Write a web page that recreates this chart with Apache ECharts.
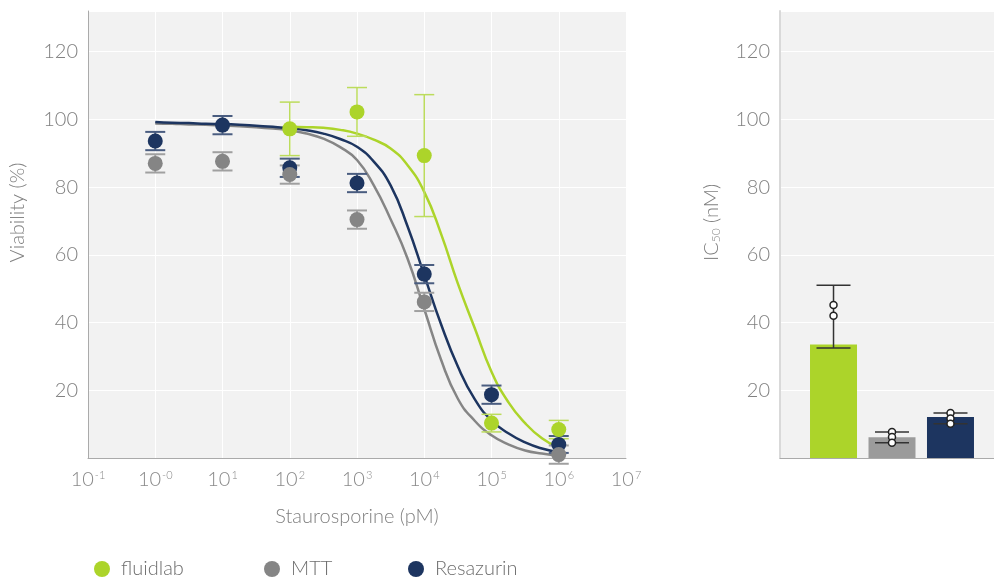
<!DOCTYPE html>
<html>
<head>
<meta charset="utf-8">
<script src="https://cdn.jsdelivr.net/npm/echarts/dist/echarts.min.js"></script>
<style>
  html, body { margin: 0; padding: 0; background: #fff; }
  #chart { width: 994px; height: 581px; }
</style>
</head>
<body>
<div id="chart"></div>
<script>
// doses (pM) for the measured points
const doses = [1, 10, 100, 1000, 10000, 100000, 1000000]
const fluidlabMean = [null, null, 97.2, 102.2, 89.3, 10.3, 8.4]
const fluidlabSd = [null, null, 7.9, 7.2, 18.0, 2.6, 2.7]
const mttMean = [87.0, 87.6, 83.7, 70.4, 46.1, null, 1.0]
const mttSd = [2.7, 2.7, 2.7, 2.7, 2.7, null, 2.7]
const resMean = [93.6, 98.3, 85.7, 81.2, 54.3, 18.7, 4.0]
const resSd = [2.7, 2.7, 2.7, 2.7, 2.7, 2.7, 2.5]

// fitted curves, every quarter decade (10^k pM, k = 0 ... 6)
const curveExp = [0, 0.25, 0.5, 0.75, 1, 1.25, 1.5, 1.75, 2, 2.25, 2.5, 2.75, 3, 3.25, 3.5, 3.75, 4, 4.25, 4.5, 4.75, 5, 5.25, 5.5, 5.75, 6]
const fluidlabFit = [null, null, null, null, null, null, null, null,
  97.8, 97.7, 97.5, 96.9, 95.8, 94.0, 91.4, 86.5, 78.6, 66.2, 51.5, 38.4, 25.5, 16.5, 10.3, 5.8, 3.0]
const mttFit = [98.8, 98.7, 98.5, 98.4, 98.2, 98.0, 97.7, 97.3,
  96.8, 95.8, 94.3, 91.8, 88.0, 80.5, 70.5, 59.0, 44.0, 29.0, 17.5, 11.0, 6.7, 4.0, 2.2, 1.3, 0.7]
const resFit = [99.2, 99.0, 98.9, 98.7, 98.6, 98.4, 98.1, 97.8,
  97.4, 96.8, 95.8, 94.2, 91.9, 87.5, 80.5, 68.5, 54.0, 39.5, 27.0, 17.4, 11.1, 7.3, 4.6, 2.8, 1.7]

// x tick exponents as printed
const xTickExp = ['-1', '-0', '1', '2', '3', '4', '5', '6', '7']

// IC50 bar chart
const ic50Names = ['fluidlab', 'MTT', 'Resazurin']
const ic50Mean = [33.5, 6.1, 12.1]
const ic50Low = [32.5, 4.5, 10.1]
const ic50High = [51.0, 7.7, 13.3]
const ic50Reps = [[45.2, 42.0], [7.7, 6.2, 4.5], [13.3, 11.7, 10.1]]

const green = '#acd42a'
const gray = '#858585'
const barGray = '#9b9b9b'
const navy = '#1d3560'
const font = 'Lato'
const textColor = '#808080'

const pts = (mean) => doses.map((d, i) => (mean[i] == null ? null : [d, mean[i]])).filter(Boolean)
const errs = (mean, sd) =>
  doses.map((d, i) => (mean[i] == null ? null : [d, mean[i] - sd[i], mean[i] + sd[i]])).filter(Boolean)
const fit = (vals) => curveExp.map((k, i) => (vals[i] == null ? null : [Math.pow(10, k), vals[i]])).filter(Boolean)

// error bar: vertical line + two caps
const errorBar = (capHalf, width) => (params, api) => {
  const x = api.value(0)
  const lo = api.coord([x, api.value(1)])
  const hi = api.coord([x, api.value(2)])
  const style = { stroke: api.visual('color'), lineWidth: width }
  return {
    type: 'group',
    children: [
      { type: 'line', shape: { x1: lo[0], y1: lo[1], x2: hi[0], y2: hi[1] }, style },
      { type: 'line', shape: { x1: hi[0] - capHalf, y1: hi[1], x2: hi[0] + capHalf, y2: hi[1] }, style },
      { type: 'line', shape: { x1: lo[0] - capHalf, y1: lo[1], x2: lo[0] + capHalf, y2: lo[1] }, style },
    ],
  }
}

const myChart = echarts.init(document.getElementById('chart'))

const yAxisBase = {
  type: 'value',
  min: 0,
  max: 132,
  interval: 20,
  axisTick: { show: false },
  axisLabel: {
    color: textColor,
    fontFamily: font,
    fontWeight: 300,
    fontSize: 20,
    margin: 10,
    formatter: (v) => (v === 0 || v > 120 ? '' : String(v)), // 0 和上限不顯示
  },
  splitLine: { lineStyle: { color: '#ffffff', width: 1 } },
  nameLocation: 'middle',
}

const legendBase = {
  icon: 'circle',
  itemWidth: 16,
  itemHeight: 16,
  top: 554,
  textStyle: { color: '#6e6e6e', fontFamily: font, fontWeight: 300, fontSize: 20, padding: [0, 0, 0, 6] },
}

const curve = (name, vals, color) => ({
  name,
  type: 'line',
  xAxisIndex: 0,
  yAxisIndex: 0,
  data: fit(vals),
  smooth: 0.5,
  symbol: 'none',
  lineStyle: { color, width: 2.5 },
  z: 2,
})

const option = {
  animation: false,
  legend: [
    { ...legendBase, left: 89, data: ['fluidlab'] },
    { ...legendBase, left: 259, data: ['MTT'] },
    { ...legendBase, left: 403, data: ['Resazurin'] },
  ],
  grid: [
    { left: 88, right: 368, top: 11, bottom: 123, show: true, backgroundColor: '#f2f2f2', borderWidth: 0 },
    { left: 780, right: 0, top: 11, bottom: 123, show: true, backgroundColor: '#f2f2f2', borderWidth: 0 },
  ],
  xAxis: [
    {
      type: 'log',
      gridIndex: 0,
      logBase: 10,
      min: 0.1,
      max: 10000000,
      name: 'Staurosporine (pM)',
      nameLocation: 'middle',
      nameGap: 49,
      nameTextStyle: { color: textColor, fontFamily: font, fontWeight: 300, fontSize: 20 },
      axisLine: { lineStyle: { color: '#aaaaaa', width: 1 } },
      axisTick: { show: false },
      splitLine: { show: true, lineStyle: { color: '#ffffff', width: 1 } },
      axisLabel: {
        margin: 12,
        color: '#8a8a8a',
        fontFamily: font,
        fontWeight: 300,
        fontSize: 20,
        formatter: (v) => '10{sup|' + xTickExp[Math.round(Math.log10(v)) + 1] + '}',
        rich: {
          sup: { fontFamily: font, fontWeight: 300, fontSize: 11, color: '#8a8a8a', verticalAlign: 'top', padding: [0, 0, 8, 1] },
        },
      },
    },
    {
      type: 'value',
      gridIndex: 1,
      min: -0.915,
      max: 2.744,
      axisLine: { lineStyle: { color: '#aaaaaa', width: 1 } },
      axisTick: { show: false },
      axisLabel: { show: false },
      splitLine: { show: false },
    },
  ],
  yAxis: [
    {
      ...yAxisBase,
      gridIndex: 0,
      name: 'Viability (%)',
      nameGap: 60,
      nameTextStyle: { color: textColor, fontFamily: font, fontWeight: 300, fontSize: 20, padding: [0, 0, 0, 44] },
      axisLine: { show: true, onZero: false, lineStyle: { color: '#aaaaaa', width: 1 } },
    },
    {
      ...yAxisBase,
      gridIndex: 1,
      name: 'IC{sub|50} (nM)',
      nameGap: 58,
      nameTextStyle: {
        color: textColor,
        fontFamily: font,
        fontWeight: 300,
        fontSize: 20,
        padding: [0, 0, 0, 24],
        rich: {
          sub: { fontFamily: font, fontWeight: 300, fontSize: 12, color: textColor, verticalAlign: 'bottom', padding: [6, 0, 0, 0] },
        },
      },
      axisLine: { show: true, onZero: false, lineStyle: { color: '#d9d9d9', width: 2 } },
    },
  ],
  series: [
    // fitted curves
    curve('MTT fit', mttFit, gray),
    curve('Resazurin fit', resFit, navy),
    curve('fluidlab fit', fluidlabFit, green),
    // error bars
    { type: 'custom', xAxisIndex: 0, yAxisIndex: 0, renderItem: errorBar(10, 2), data: errs(resMean, resSd), itemStyle: { color: '#4a5d80' }, clip: false, z: 3 },
    { type: 'custom', xAxisIndex: 0, yAxisIndex: 0, renderItem: errorBar(10, 2), data: errs(mttMean, mttSd), itemStyle: { color: '#a0a0a0' }, clip: false, z: 3 },
    { type: 'custom', xAxisIndex: 0, yAxisIndex: 0, renderItem: errorBar(10, 1.5), data: errs(fluidlabMean, fluidlabSd), itemStyle: { color: '#bcdc5c' }, clip: false, z: 3 },
    // points
    { name: 'Resazurin', type: 'scatter', xAxisIndex: 0, yAxisIndex: 0, data: pts(resMean), symbolSize: 15, itemStyle: { color: navy, opacity: 1 }, z: 4 },
    { name: 'MTT', type: 'scatter', xAxisIndex: 0, yAxisIndex: 0, data: pts(mttMean), symbolSize: 15, itemStyle: { color: gray, opacity: 1 }, z: 4 },
    { name: 'fluidlab', type: 'scatter', xAxisIndex: 0, yAxisIndex: 0, data: pts(fluidlabMean), symbolSize: 15, itemStyle: { color: green, opacity: 1 }, z: 4 },
    // IC50 bars
    {
      type: 'bar',
      xAxisIndex: 1,
      yAxisIndex: 1,
      barWidth: 47,
      data: ic50Mean.map((v, i) => ({ value: [i, v], itemStyle: { color: [green, barGray, navy][i] } })),
      z: 2,
    },
    {
      type: 'custom',
      xAxisIndex: 1,
      yAxisIndex: 1,
      renderItem: errorBar(17, 1.5),
      data: ic50Names.map((n, i) => [i, ic50Low[i], ic50High[i]]),
      itemStyle: { color: '#333333' },
      z: 3,
    },
    {
      type: 'scatter',
      xAxisIndex: 1,
      yAxisIndex: 1,
      data: ic50Reps.flatMap((reps, i) => reps.map((v) => [i, v])),
      symbolSize: 7,
      itemStyle: { color: '#ffffff', borderColor: '#222222', borderWidth: 1.5, opacity: 1 },
      z: 4,
    },
  ],
}

myChart.setOption(option)
</script>
</body>
</html>
